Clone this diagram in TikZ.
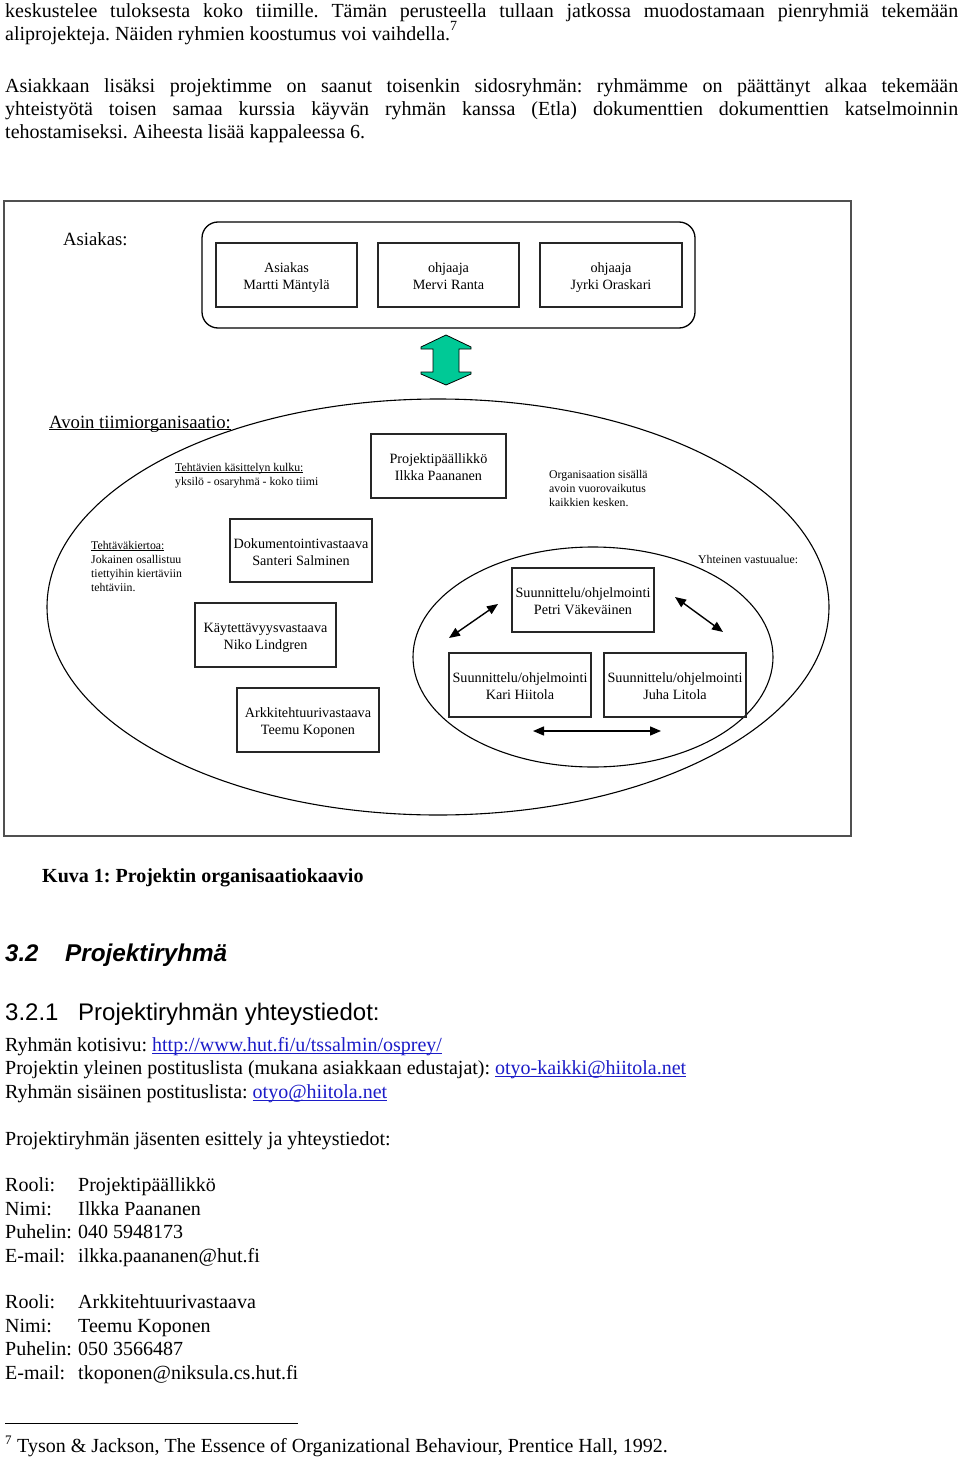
\documentclass[tikz,border=0pt]{standalone}
\usepackage{fontspec}
\setmainfont{Liberation Serif}
\newfontfamily\arialfont{Liberation Sans}
\usetikzlibrary{arrows.meta,shapes.geometric}
\definecolor{linkblue}{HTML}{1C1CC8}
\definecolor{arrowgreen}{HTML}{00C996}
\definecolor{framegray}{HTML}{505050}
\frenchspacing
\newcommand{\ulfixed}[2][2pt]{\setbox0=\hbox{#2}\rlap{\rule[-#1]{\wd0}{0.8pt}}\box0}
\newcommand{\linktxt}[1]{{\color{linkblue}\ulfixed[2.6pt]{#1}}}
\newcommand{\twolines}[2]{\rule{0pt}{17.9pt}#1\\\strut#2}
\begin{document}
\begin{tikzpicture}[x=1pt,y=-1pt,
  bodytxt/.style={anchor=base west, inner sep=0pt, font=\fontsize{20}{23.5}\selectfont},
  smalltxt/.style={anchor=base west, inner sep=0pt, font=\fontsize{11.8}{14}\selectfont},
  labeltxt/.style={anchor=base west, inner sep=0pt, font=\fontsize{18.7}{22}\selectfont},
  rolebox/.style={draw=black!85, line width=1.3pt, minimum width=142pt, minimum height=64pt, inner sep=0pt, align=center, font=\fontsize{14.2}{17}\selectfont},
  ovalshape/.style={draw=black, line width=1.1pt, ellipse, inner sep=0pt},
  linkarrow/.style={line width=1.4pt, {Triangle[length=11pt,width=9pt]}-{Triangle[length=11pt,width=9pt]}}
]
\useasboundingbox (0,0) rectangle (960,1458);
\fill[white] (0,0) rectangle (960,1458);

% ---------- top paragraph ----------
\node[bodytxt] (p1) at (5,18) {\makebox[953pt][s]{keskustelee tuloksesta koko tiimille. Tämän perusteella tullaan jatkossa muodostamaan pienryhmiä tekemään}};
\node[bodytxt] (p2) at (5,41) {aliprojekteja. Näiden ryhmien koostumus voi vaihdella.\raisebox{10pt}{\fontsize{14}{14}\selectfont 7}};
\node[bodytxt] (p4) at (5,93) {\makebox[953pt][s]{Asiakkaan lisäksi projektimme on saanut toisenkin sidosryhmän: ryhmämme on päättänyt alkaa tekemään}};
\node[bodytxt] (p5) at (5,116) {\makebox[953pt][s]{yhteistyötä toisen samaa kurssia käyvän ryhmän kanssa (Etla) dokumenttien dokumenttien katselmoinnin}};
\node[bodytxt] (p6) at (5,139) {tehostamiseksi. Aiheesta lisää kappaleessa 6.};

% ---------- diagram frame ----------
\draw[framegray, line width=2pt] (4,201) rectangle (851,836);

% client group
\node[labeltxt] (asiakaslbl) at (63,245) {Asiakas:};
\node[draw=black, line width=1.3pt, rounded corners=16pt, minimum width=493pt, minimum height=106pt, inner sep=0pt] (clientgrp) at (448.5,275) {};
\node[rolebox, minimum width=141pt] (asiakas) at (286.5,275) {\twolines{Asiakas}{Martti Mäntylä}};
\node[rolebox, minimum width=141pt] (mervi) at (448.5,275) {\twolines{ohjaaja}{Mervi Ranta}};
\node[rolebox] (jyrki) at (611,275) {\twolines{ohjaaja}{Jyrki Oraskari}};

% green double arrow
\filldraw[fill=arrowgreen, draw=black, line width=0.8pt]
  (446,335) -- (471,347) -- (471,349) -- (459,349) -- (459,372) -- (471,372) -- (471,374)
  -- (446,385) -- (421,374) -- (421,372) -- (433,372) -- (433,349) -- (421,349) -- (421,347) -- cycle;

% team organisation
\node[labeltxt] (avoinlbl) at (49,428) {\ulfixed[2.2pt]{Avoin tiimiorganisaatio:}};
\node[ovalshape, minimum width=782pt, minimum height=416pt] (teamoval) at (438,607) {};

\node[smalltxt] (kulku1) at (175,471) {\ulfixed[1.6pt]{Tehtävien käsittelyn kulku:}};
\node[smalltxt] (kulku2) at (175,485) {yksilö - osaryhmä - koko tiimi};

\node[rolebox, minimum width=135pt] (pm) at (438.5,466) {\twolines{Projektipäällikkö}{Ilkka Paananen}};

\node[smalltxt] (org1) at (549,478) {Organisaation sisällä};
\node[smalltxt] (org2) at (549,492) {avoin vuorovaikutus};
\node[smalltxt] (org3) at (549,506) {kaikkien kesken.};

\node[smalltxt] (kierto1) at (91,549) {\ulfixed[1.6pt]{Tehtäväkiertoa:}};
\node[smalltxt] (kierto2) at (91,563) {Jokainen osallistuu};
\node[smalltxt] (kierto3) at (91,577) {tiettyihin kiertäviin};
\node[smalltxt] (kierto4) at (91,591) {tehtäviin.};

\node[rolebox, minimum height=63pt] (doku) at (301,550.5) {\twolines{Dokumentointivastaava}{Santeri Salminen}};
\node[rolebox, minimum width=141pt] (kayt) at (265.5,635) {\twolines{Käytettävyysvastaava}{Niko Lindgren}};
\node[rolebox] (arkki) at (308,720) {\twolines{Arkkitehtuurivastaava}{Teemu Koponen}};

% shared responsibility
\node[smalltxt] (yhteinen) at (698,563) {Yhteinen vastuualue:};
\node[ovalshape, minimum width=360pt, minimum height=220pt] (devoval) at (593,657) {};
\node[rolebox] (petri) at (583,600) {\twolines{Suunnittelu/ohjelmointi}{Petri Väkeväinen}};
\node[rolebox] (kari) at (520,685) {\twolines{Suunnittelu/ohjelmointi}{Kari Hiitola}};
\node[rolebox] (juha) at (675,685) {\twolines{Suunnittelu/ohjelmointi}{Juha Litola}};

\coordinate (la1) at (449,638); \coordinate (la2) at (498,604);
\coordinate (ra1) at (675,597); \coordinate (ra2) at (723,632);
\coordinate (ha1) at (533,731); \coordinate (ha2) at (661,731);
\draw[linkarrow] (la1) -- (la2);
\draw[linkarrow] (ra1) -- (ra2);
\draw[linkarrow] (ha1) -- (ha2);

% ---------- caption and section ----------
\node[anchor=base west, inner sep=0pt, font=\fontsize{20}{24}\selectfont\bfseries] (caption) at (42,882) {Kuva 1: Projektin organisaatiokaavio};

\node[anchor=base west, inner sep=0pt, font=\arialfont\fontsize{24}{28}\selectfont\bfseries\itshape] (secnum) at (5,961) {3.2};
\node[anchor=base west, inner sep=0pt, font=\arialfont\fontsize{24.3}{28}\selectfont\bfseries\itshape] (sectitle) at (65,961) {Projektiryhmä};

\node[anchor=base west, inner sep=0pt, font=\arialfont\fontsize{24}{28}\selectfont] (subnum) at (5,1020) {3.2.1};
\node[anchor=base west, inner sep=0pt, font=\arialfont\fontsize{24}{28}\selectfont] (subtitle) at (78,1020) {Projektiryhmän yhteystiedot:};

\node[bodytxt] (l1) at (5,1051) {Ryhmän kotisivu: \linktxt{http://www.hut.fi/u/tssalmin/osprey/}};
\node[bodytxt] (l2) at (5,1074) {Projektin yleinen postituslista (mukana asiakkaan edustajat): \linktxt{otyo-kaikki@hiitola.net}};
\node[bodytxt] (l3) at (5,1098) {Ryhmän sisäinen postituslista: \linktxt{otyo@hiitola.net}};

\node[bodytxt] (intro) at (5,1145) {Projektiryhmän jäsenten esittely ja yhteystiedot:};

\node[bodytxt] (r1k) at (5,1191) {Rooli:};   \node[bodytxt] (r1v) at (78,1191) {Projektipäällikkö};
\node[bodytxt] (n1k) at (5,1215) {Nimi:};    \node[bodytxt] (n1v) at (78,1215) {Ilkka Paananen};
\node[bodytxt] (t1k) at (5,1238) {Puhelin:}; \node[bodytxt] (t1v) at (78,1238) {040 5948173};
\node[bodytxt] (e1k) at (5,1262) {E-mail:};  \node[bodytxt] (e1v) at (78,1262) {ilkka.paananen@hut.fi};

\node[bodytxt] (r2k) at (5,1308) {Rooli:};   \node[bodytxt] (r2v) at (78,1308) {Arkkitehtuurivastaava};
\node[bodytxt] (n2k) at (5,1332) {Nimi:};    \node[bodytxt] (n2v) at (78,1332) {Teemu Koponen};
\node[bodytxt] (t2k) at (5,1355) {Puhelin:}; \node[bodytxt] (t2v) at (78,1355) {050 3566487};
\node[bodytxt] (e2k) at (5,1379) {E-mail:};  \node[bodytxt] (e2v) at (78,1379) {tkoponen@niksula.cs.hut.fi};

% footnote
\draw[line width=1pt] (5,1423) -- (298,1423);
\node[anchor=base west, inner sep=0pt, font=\fontsize{13}{13}\selectfont] (fnmark) at (5,1444) {7};
\node[bodytxt] (fntext) at (17,1452) {Tyson \& Jackson, The Essence of Organizational Behaviour, Prentice Hall, 1992.};
\end{tikzpicture}
\end{document}
